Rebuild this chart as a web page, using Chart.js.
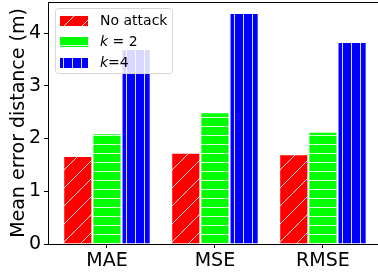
<!DOCTYPE html>
<html>
<head>
<meta charset="utf-8">
<script src="https://cdn.jsdelivr.net/npm/chart.js@4"></script>
<style>
  html, body { margin: 0; padding: 0; background: #fff; overflow: hidden; }
  #wrap { width: 378px; height: 273px; }
</style>
</head>
<body>
<div id="wrap"><canvas id="errChart" width="378" height="273"></canvas></div>
<script>
// categories and values
const metrics = ['MAE', 'MSE', 'RMSE'];
const noAttack = [1.67, 1.73, 1.70];
const k2 = [2.10, 2.50, 2.13];
const k4 = [3.70, 4.38, 3.83];   // MAE top is hidden under the legend, guessed
const yTicks = [0, 1, 2, 3, 4];

// build a hatch pattern like matplotlib's
function hatch(color, kind) {
  const size = kind === '/' ? 18 : 9;
  const c = document.createElement('canvas');
  c.width = size; c.height = size;
  const g = c.getContext('2d');
  g.fillStyle = color;
  g.fillRect(0, 0, size, size);
  g.strokeStyle = 'rgba(255,255,255,0.85)';
  g.lineWidth = 1;
  g.beginPath();
  if (kind === '/') {
    g.moveTo(-1, size + 1); g.lineTo(size + 1, -1);
    g.moveTo(-size - 1, size + 1); g.lineTo(1, -1);
    g.moveTo(size - 1, 2 * size + 1); g.lineTo(2 * size + 1, size - 1);
  } else if (kind === '-') {
    g.moveTo(0, 0.5); g.lineTo(size, 0.5);
  } else {
    g.moveTo(0.5, 0); g.lineTo(0.5, size);
  }
  g.stroke();
  return g.createPattern(c, 'repeat');
}

const redFill = hatch('#ff0000', '/');
const greenFill = hatch('#00ff00', '-');
const blueFill = hatch('#0000ff', '|');

const legendItems = [
  { fill: redFill, parts: [['No attack', false]] },
  { fill: greenFill, parts: [['k', true], [' = 2', false]] },
  { fill: blueFill, parts: [['k', true], ['=4', false]] }
];

const frame = {
  id: 'frame',
  afterDatasetsDraw(chart) {
    const ctx = chart.ctx;
    const a = chart.chartArea;
    ctx.save();
    // top spine
    ctx.strokeStyle = '#000';
    ctx.lineWidth = 1;
    ctx.beginPath();
    ctx.moveTo(a.left, a.top + 0.5);
    ctx.lineTo(a.right, a.top + 0.5);
    ctx.stroke();

    // legend box
    const x0 = a.left + 7, y0 = a.top + 6, w = 117, h = 65;
    ctx.fillStyle = 'rgba(255,255,255,0.85)';
    ctx.strokeStyle = '#d6d6d6';
    ctx.beginPath();
    ctx.roundRect(x0 + 0.5, y0 + 0.5, w, h, 3);
    ctx.fill();
    ctx.stroke();

    ctx.font = '14px "DejaVu Sans"';
    ctx.textBaseline = 'middle';
    legendItems.forEach((item, i) => {
      const cy = y0 + 13 + i * 21;
      ctx.fillStyle = item.fill;
      ctx.fillRect(x0 + 5, cy - 5, 28, 10);
      let tx = x0 + 45;
      ctx.fillStyle = '#000';
      item.parts.forEach(([txt, it]) => {
        ctx.font = (it ? 'italic ' : '') + '14px "DejaVu Sans"';
        ctx.fillText(txt, tx, cy);
        tx += ctx.measureText(txt).width;
      });
    });
    ctx.restore();
  }
};

function series(vals) {
  return vals.map((v, i) => ({ x: i, y: v }));
}

function noPad(s) {
  s.paddingTop = 0; s.paddingBottom = 0;
  s.paddingLeft = 0; s.paddingRight = 0;
}

new Chart(document.getElementById('errChart'), {
  type: 'bar',
  data: {
    datasets: [
      { label: 'No attack', data: series(noAttack), backgroundColor: redFill },
      { label: 'k = 2', data: series(k2), backgroundColor: greenFill },
      { label: 'k=4', data: series(k4), backgroundColor: blueFill }
    ]
  },
  options: {
    responsive: false,
    animation: false,
    layout: { padding: { top: 2, right: 0, left: 0, bottom: 0 } },
    datasets: {
      bar: {
        categoryPercentage: 0.81,
        barPercentage: 1,
        borderColor: 'rgba(255,255,255,0.6)',
        borderWidth: 1
      }
    },
    plugins: {
      legend: { display: false },
      tooltip: { enabled: false }
    },
    scales: {
      x: {
        type: 'linear',
        offset: false,
        min: -0.546,
        max: 2.51,
        afterBuildTicks: s => { s.ticks = metrics.map((m, i) => ({ value: i })); },
        afterFit: s => { s.height = 29; noPad(s); },
        ticks: {
          callback: v => metrics[v],
          font: { family: 'DejaVu Sans', size: 19 },
          color: '#000',
          padding: 2,
          maxRotation: 0
        },
        grid: { offset: false, drawOnChartArea: false, tickLength: 4, tickColor: '#000' },
        border: { color: '#000', width: 1 }
      },
      y: {
        min: 0,
        max: 4.59,
        afterBuildTicks: s => { s.ticks = yTicks.map(v => ({ value: v })); },
        afterFit: s => { s.width = 48; noPad(s); },
        ticks: {
          font: { family: 'DejaVu Sans', size: 19 },
          color: '#000',
          padding: 3
        },
        grid: { drawOnChartArea: false, tickLength: 4, tickColor: '#000' },
        border: { color: '#000', width: 1 },
        title: {
          display: true,
          text: 'Mean error distance (m)',
          font: { family: 'DejaVu Sans', size: 19 },
          color: '#000',
          padding: { top: 8, bottom: 0 }
        }
      }
    }
  },
  plugins: [frame]
});
</script>
</body>
</html>
